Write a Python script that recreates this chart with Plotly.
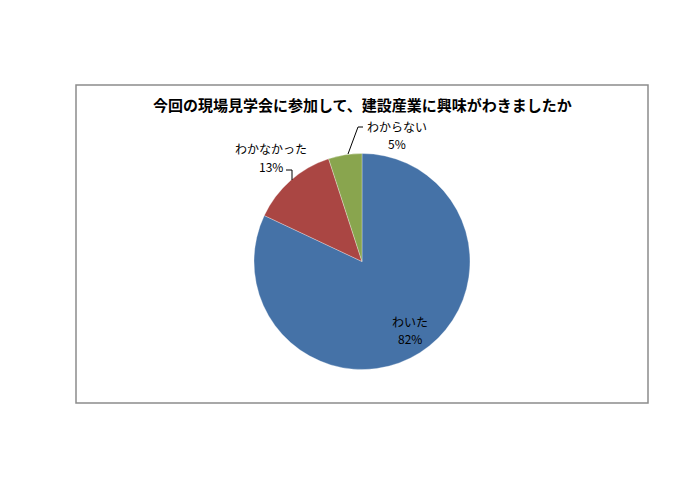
# -*- coding: utf-8 -*-
# what : 現場見学会アンケート 円グラフ
#---------------------------------------------------
import plotly.graph_objects as go

W, H = 690, 488
OFF = 8  # page margin of the html body

# data
labels = ["わいた", "わかなかった", "わからない"]
values = [82, 13, 5]
colors = ["#4572A7", "#AA4643", "#89A54E"]
title = "今回の現場見学会に参加して、建設産業に興味がわきましたか"

FONT = "Noto Sans CJK JP"

#---------------
def px2x(x):
  return (x - OFF) / W

def px2y(y):
  return 1 - (y - OFF) / H

def mk_fig():
  fig = go.Figure()
  fig.add_trace(go.Pie(
    labels=labels, values=values,
    marker=dict(colors=colors, line=dict(color="white", width=0.3)),
    sort=False, direction="clockwise", rotation=0,
    textinfo="none", hoverinfo="label+percent",
    showlegend=False,
    domain=dict(x=[px2x(254), px2x(470)], y=[px2y(369.5), px2y(153.5)]),
  ))

  # chart area frame
  fig.add_shape(type="rect", xref="paper", yref="paper",
                x0=px2x(76), x1=px2x(648), y0=px2y(403), y1=px2y(85),
                line=dict(color="#8C8C8C", width=1.5), layer="below")

  # title
  fig.add_annotation(text=f"<b>{title}</b>", x=px2x(362), y=px2y(105),
                     xref="paper", yref="paper", showarrow=False,
                     xanchor="center", yanchor="middle",
                     font=dict(family=FONT, size=15, color="black"))

  # data labels (label / percent)
  total = sum(values)
  pos = [(410, 321, 338), (271, 149, 166), (397, 127, 143)]
  for lab, v, (x, y1, y2) in zip(labels, values, pos):
    pct = round(v / total * 100)
    for txt, y in [(lab, y1), (f"{pct}%", y2)]:
      fig.add_annotation(text=txt, x=px2x(x), y=px2y(y),
                         xref="paper", yref="paper", showarrow=False,
                         xanchor="center", yanchor="middle",
                         font=dict(family=FONT, size=12, color="black"))

  # leader lines
  fig.add_shape(type="path", xref="paper", yref="paper",
                path=f"M {px2x(286)},{px2y(170)} L {px2x(292)},{px2y(170)} L {px2x(292)},{px2y(180)}",
                line=dict(color="black", width=1))
  fig.add_shape(type="path", xref="paper", yref="paper",
                path=f"M {px2x(363)},{px2y(127)} L {px2x(358)},{px2y(127)} L {px2x(348)},{px2y(154)}",
                line=dict(color="black", width=1))

  fig.update_layout(width=W, height=H, margin=dict(l=0, r=0, t=0, b=0),
                    paper_bgcolor="white", plot_bgcolor="white")
  return fig

if __name__ == "__main__":
  fig = mk_fig()
  fig.write_html("out.html")
